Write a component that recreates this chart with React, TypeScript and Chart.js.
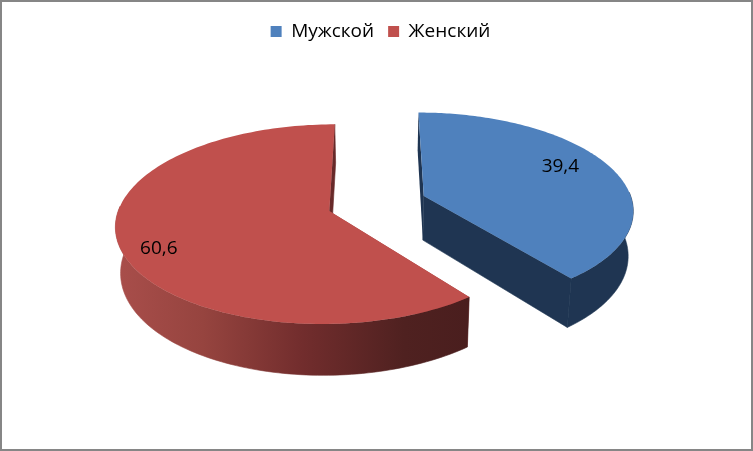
import React, { useEffect, useRef } from "react";
import { Chart, registerables } from "chart.js";

Chart.register(...registerables);

const categories = ["Мужской", "Женский"];
const values = [39.4, 60.6];
const valueLabels = ["39,4", "60,6"];
const topColors = ["#4F81BD", "#C0504D"];
const labelFractions = [0.77, 0.84];
const labelAngleShift = [-6, -6.4];

const K = 0.46;
const P = 0.00062;
const X_SHRINK = 0.98;
const CENTER_SHIFT_X = -3.5;
const FONT = '"Open Sans", sans-serif';

const pie3d = {
  id: "pie3d",
  beforeDatasetsDraw(chart: any) {
    const ctx = chart.ctx as CanvasRenderingContext2D;
    const arcs = chart.getDatasetMeta(0).data;
    const X0 = arcs[0].x + CENTER_SHIFT_X;
    const Y0 = arcs[0].y;
    const top = (u: number, v: number) => {
      const s = 1 / (1 - P * v);
      return [X0 + u * s, Y0 + K * v * s];
    };
    const bottom = (u: number, v: number) => {
      const [x, y] = top(u, v);
      return [X0 + (x - X0) * X_SHRINK, y + 44 + (v + 18) * 0.03];
    };
    const poly = (pts: number[][], fill: string | CanvasGradient, seal: boolean) => {
      ctx.beginPath();
      pts.forEach((p, i) => (i ? ctx.lineTo(p[0], p[1]) : ctx.moveTo(p[0], p[1])));
      ctx.closePath();
      ctx.fillStyle = fill;
      ctx.fill();
      if (seal) {
        ctx.strokeStyle = fill;
        ctx.lineWidth = 0.6;
        ctx.stroke();
      }
    };
    const redWall = ctx.createLinearGradient(115, 0, 468, 0);
    redWall.addColorStop(0, "#A94E4B");
    redWall.addColorStop(0.25, "#96443F");
    redWall.addColorStop(0.53, "#722D2D");
    redWall.addColorStop(0.82, "#4F2120");
    redWall.addColorStop(1, "#4A1E1E");
    const wallColors: (string | CanvasGradient)[] = ["#1F3552", redWall];
    const startColors = ["#1F3552", "#A84845"];

    arcs.forEach((arc: any, i: number) => {
      const { startAngle, endAngle, outerRadius } = arc;
      const mid = (startAngle + endAngle) / 2;
      const off = arc.options.offset;
      const cu = Math.cos(mid) * off;
      const cv = Math.sin(mid) * off;
      const outer: number[][] = [];
      const front: number[][] = [];
      const steps = 160;
      for (let n = 0; n <= steps; n++) {
        const a = startAngle + ((endAngle - startAngle) * n) / steps;
        const p = [cu + outerRadius * Math.cos(a), cv + outerRadius * Math.sin(a)];
        outer.push(p);
        if (Math.sin(a) > -0.05) front.push(p);
      }
      const first = outer[0];
      const last = outer[steps];
      const t = (p: number[]) => top(p[0], p[1]);
      const b = (p: number[]) => bottom(p[0], p[1]);
      const c = [cu, cv];
      poly([t(last), t(c), b(c), b(last)], wallColors[i], true);
      poly([t(first), t(c), b(c), b(first)], startColors[i], false);
      poly([...front.map(t), ...front.slice().reverse().map(b)], wallColors[i], true);
      poly([t(c), ...outer.map(t)], arc.options.backgroundColor, false);

      const r = outerRadius * labelFractions[i];
      const la = mid + (labelAngleShift[i] * Math.PI) / 180;
      const [lx, ly] = top(cu + r * Math.cos(la), cv + r * Math.sin(la));
      ctx.fillStyle = "#000";
      ctx.font = `19px ${FONT}`;
      ctx.textAlign = "center";
      ctx.textBaseline = "middle";
      ctx.fillText(valueLabels[i], lx, ly);
    });
    return false;
  },
  afterDraw(chart: any) {
    const ctx = chart.ctx as CanvasRenderingContext2D;
    ctx.strokeStyle = "#868686";
    ctx.lineWidth = 2;
    ctx.strokeRect(1, 1, chart.width - 2, chart.height - 2);
  },
};

export default function App() {
  const ref = useRef<HTMLCanvasElement>(null);
  useEffect(() => {
    const chart = new Chart(ref.current!, {
      type: "pie",
      data: {
        labels: categories,
        datasets: [
          {
            data: values,
            backgroundColor: topColors,
            borderWidth: 0,
            offset: 50,
          },
        ],
      },
      options: {
        responsive: false,
        animation: false,
        radius: 209,
        rotation: 0,
        layout: { padding: { left: 8, right: 0, top: 8, bottom: 95 } },
        plugins: {
          tooltip: { enabled: false },
          legend: {
            position: "top",
            labels: {
              boxWidth: 11,
              boxHeight: 11,
              padding: 14,
              color: "#000",
              font: { family: FONT, size: 19 },
            },
          },
        },
      } as any,
      plugins: [pie3d],
    });
    return () => chart.destroy();
  }, []);
  return (
    <div style={{ position: "fixed", left: 0, top: 0, width: 753, height: 451 }}>
      <canvas ref={ref} width={753} height={451} style={{ display: "block" }} />
    </div>
  );
}
